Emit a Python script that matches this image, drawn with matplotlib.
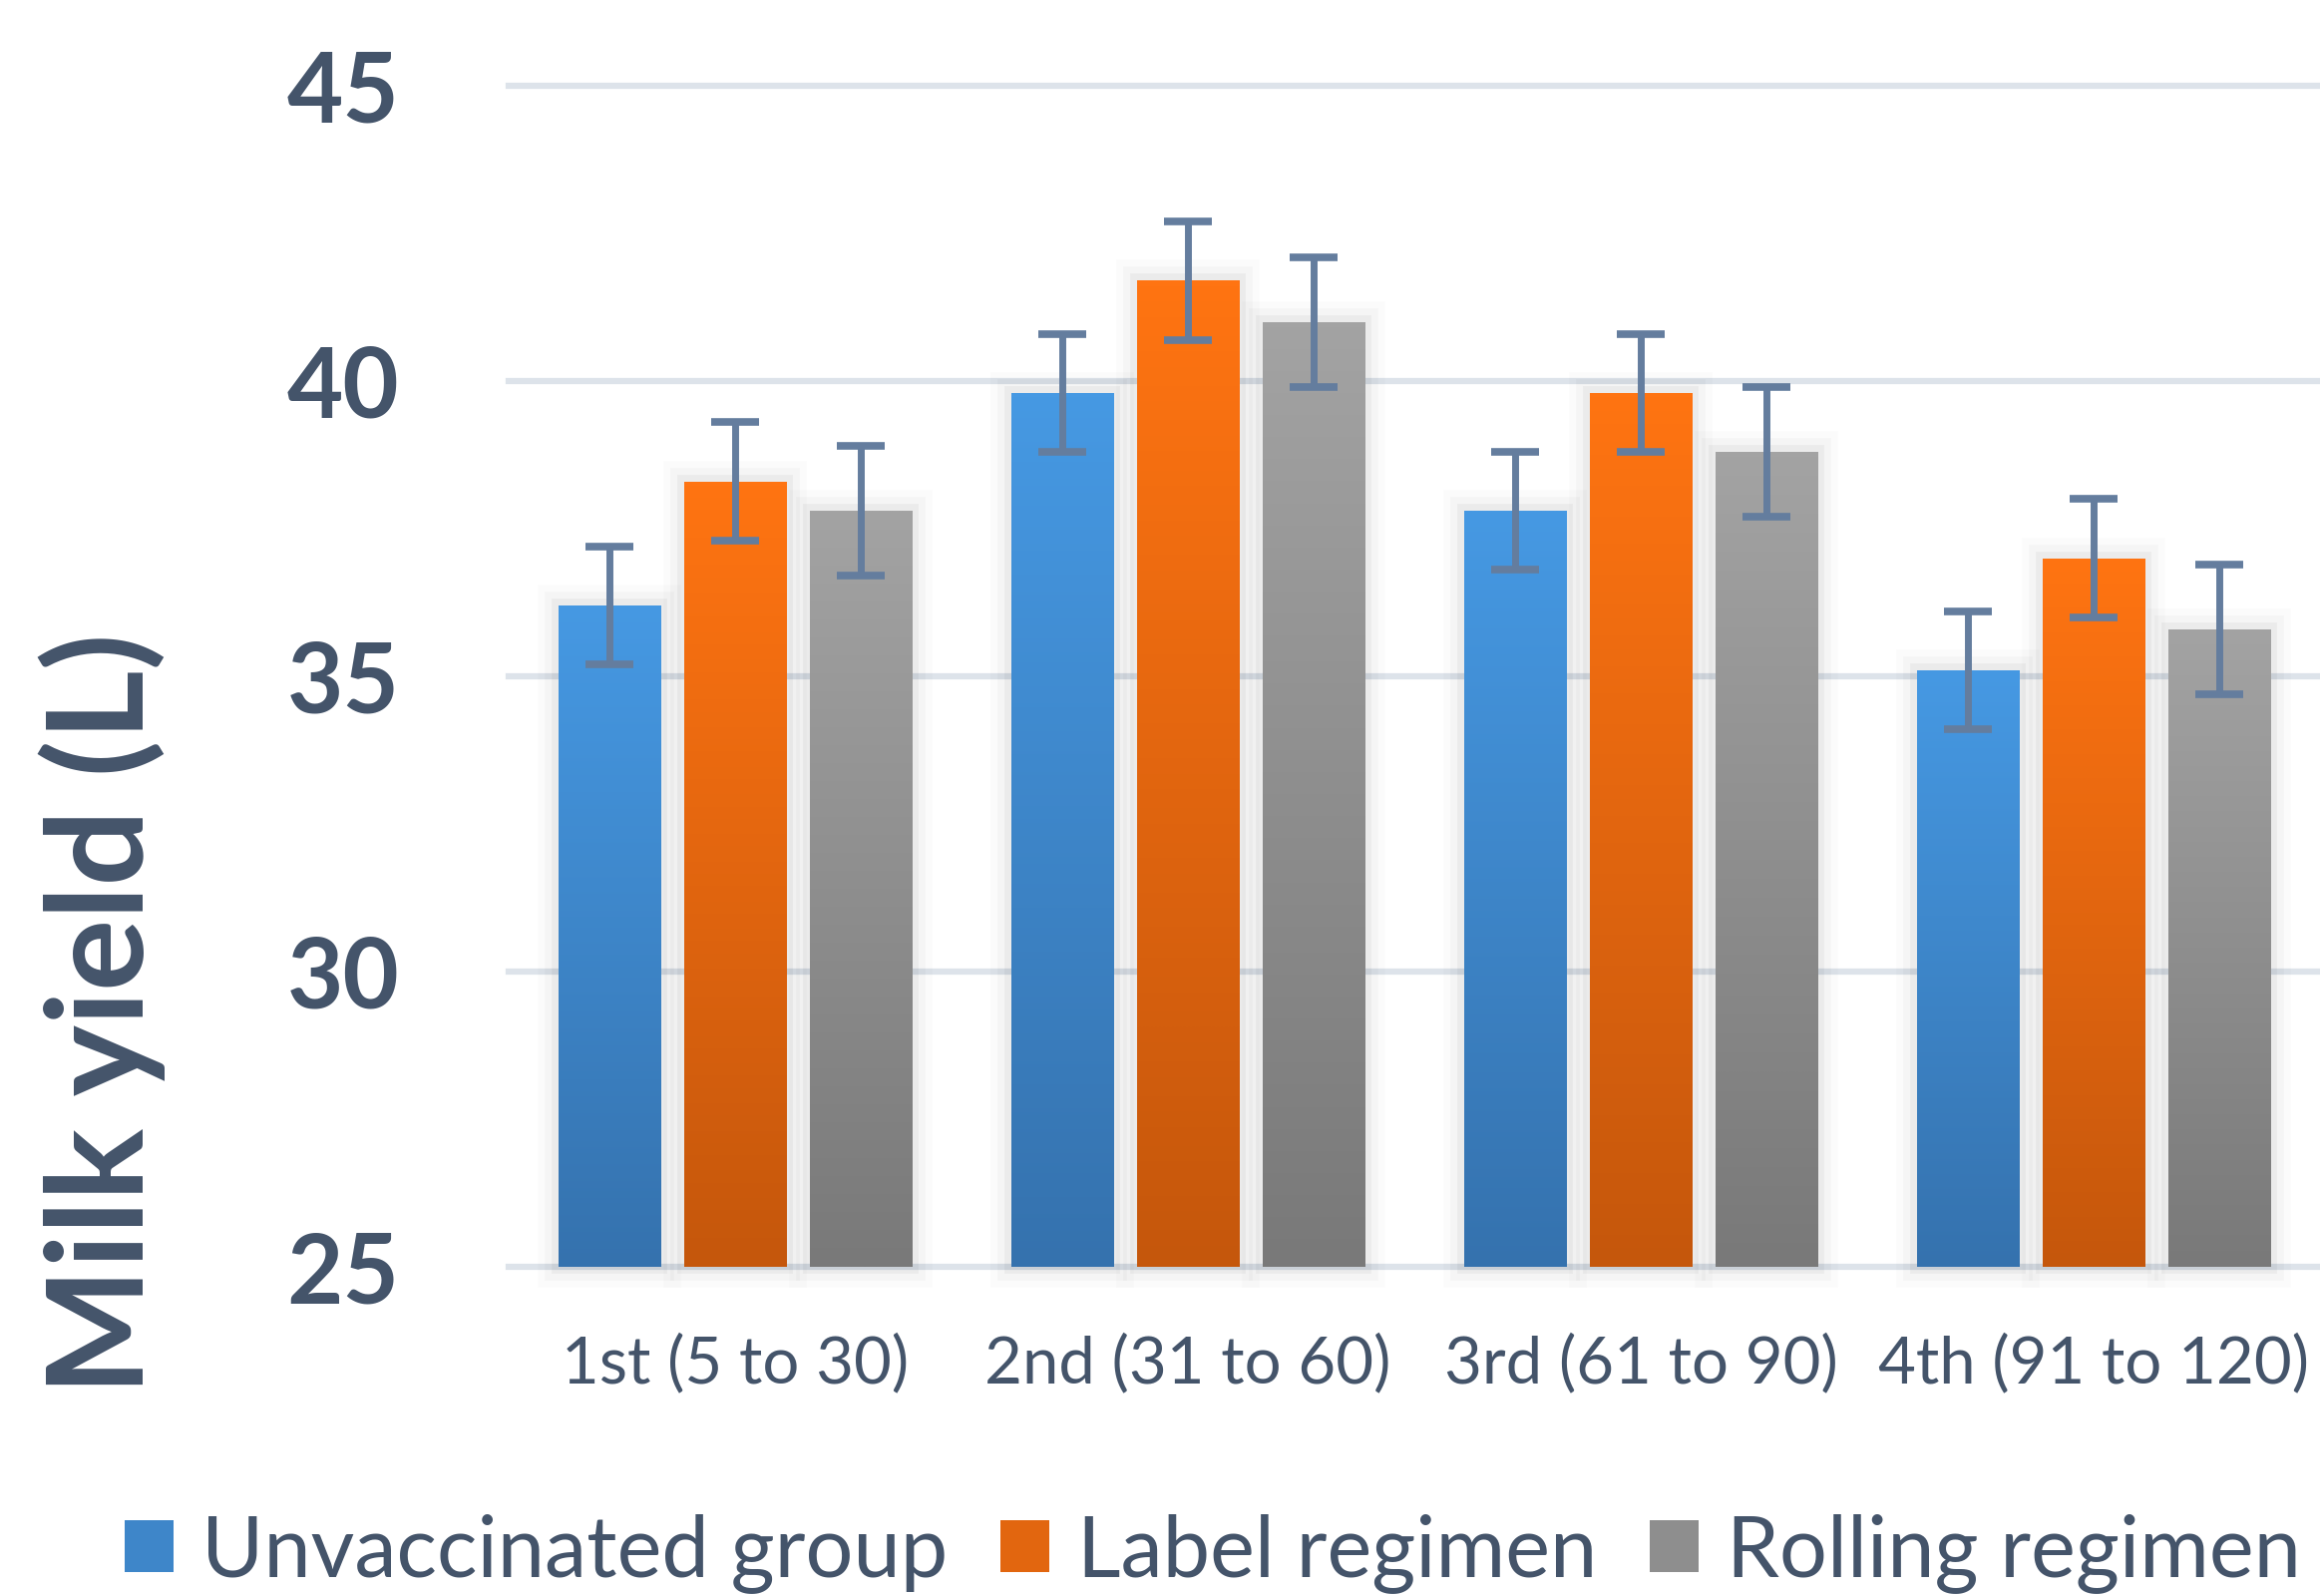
import matplotlib
matplotlib.use('Agg')
import matplotlib.pyplot as plt
import matplotlib.patheffects as pe
import numpy as np
from matplotlib.colors import LinearSegmentedColormap
from matplotlib.patches import Patch

plt.rcParams['font.family'] = ['Lato', 'DejaVu Sans']

# data (milk yield, litres)
periods = ['1st (5 to 30)', '2nd (31 to 60)', '3rd (61 to 90)', '4th (91 to 120)']
groups = ['Unvaccinated group', 'Label regimen', 'Rolling regimen']
unvaccinated = [36.2, 39.8, 37.8, 35.1]
label_regimen = [38.3, 41.7, 39.8, 37.0]
rolling_regimen = [37.8, 41.0, 38.8, 35.8]
err_unvaccinated = [1.0, 1.0, 1.0, 1.0]
err_label = [1.0, 1.0, 1.0, 1.0]
err_rolling = [1.1, 1.1, 1.1, 1.1]
yticks = [25, 30, 35, 40, 45]

text_col = '#44546A'
err_col = '#647D9E'
grads = [('#4699E3', '#3572AE'), ('#FF7412', '#C5570C'), ('#A3A3A3', '#797979')]

fig = plt.figure(figsize=(23.26, 16), dpi=100)
ax = fig.add_axes([510/2326, 1-1270/1600, 1-510/2326, (1270-86)/1600])

x = np.arange(len(periods))
pitch = 0.277
width = 0.225
ymin, ymax = 25, 45
series = [unvaccinated, label_regimen, rolling_regimen]
errs = [err_unvaccinated, err_label, err_rolling]

shadow = [pe.Stroke(linewidth=30, foreground='black', alpha=0.015),
          pe.Stroke(linewidth=20, foreground='black', alpha=0.025),
          pe.Stroke(linewidth=10, foreground='black', alpha=0.04),
          pe.Normal()]

for i, (vals, err, (top, bot)) in enumerate(zip(series, errs, grads)):
    pos = x + (i - 1) * pitch
    bars = ax.bar(pos, np.array(vals) - ymin, width, bottom=ymin, color=bot,
                  linewidth=0, zorder=2, clip_on=False, path_effects=shadow)
    cmap = LinearSegmentedColormap.from_list('g%d' % i, [bot, top])
    for b in bars:
        x0, y0 = b.get_x(), b.get_y()
        im = ax.imshow(np.linspace(0, 1, 256).reshape(-1, 1), cmap=cmap, origin='lower',
                       extent=[x0, x0 + b.get_width(), y0, y0 + b.get_height()],
                       aspect='auto', zorder=3, interpolation='bilinear')
        im.set_clip_path(b)
    ax.errorbar(pos, vals, yerr=err, fmt='none', ecolor=err_col, elinewidth=5,
                capsize=17, capthick=5.5, zorder=4)

ax.set_xlim(-0.5, 3.5)
ax.set_ylim(ymin, ymax)
ax.set_xticks(x)
ax.set_xticklabels(periods)
ax.set_yticks(yticks)
ax.tick_params(axis='y', length=0, pad=79, labelsize=70, labelcolor=text_col)
ax.tick_params(axis='x', length=0, pad=48, labelsize=47, labelcolor=text_col)
for t in ax.get_yticklabels():
    t.set_fontweight('bold')
for s in ax.spines.values():
    s.set_visible(False)
ax.yaxis.grid(True, color='#DDE3EA', linewidth=4.5)
ax.set_axisbelow(True)
for gl in ax.get_ygridlines():
    gl.set_clip_on(False)

fig.text(102/2326, 1-1016/1600, 'Milk yield (L)', rotation=90, fontsize=97,
         fontweight='bold', color=text_col, ha='center', va='center')

handles = [Patch(facecolor=LinearSegmentedColormap.from_list('m', [b, t])(0.5)) for t, b in grads]
fig.legend(handles, groups, loc='center', bbox_to_anchor=(1216/2326, 1-1557/1600), ncol=3,
           frameon=False, fontsize=61, handlelength=0.58, handleheight=0.58,
           handletextpad=0.33, columnspacing=0.62, labelcolor=text_col)

fig.savefig('out.png', dpi=100)
